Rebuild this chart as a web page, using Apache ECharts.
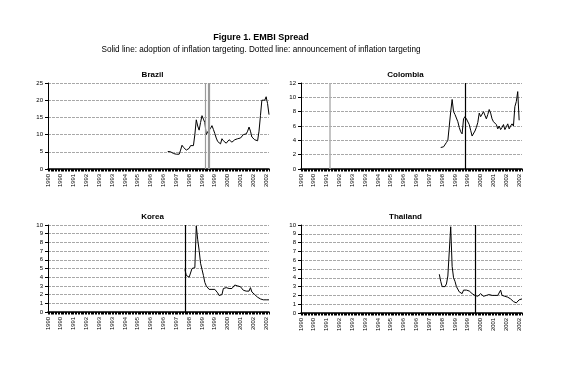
<!DOCTYPE html>
<html>
<head>
<meta charset="utf-8">
<script src="https://cdn.jsdelivr.net/npm/echarts@6/dist/echarts.min.js"></script>
<style>
html,body{margin:0;padding:0;background:#fff;}
#c{width:571px;height:385px;}
</style>
</head>
<body>
<div id="c"></div>
<script>
// Monthly categories Jan 1990 .. Dec 2002
var firstYear = 1990, lastYear = 2002;
var labelEvery = 9; // months between shown year labels

// EMBI spread (percentage points), each series starts at the given month index
var brazilStart = 84;
var brazilValues = [5.1,4.7,5.0,4.8,4.5,4.4,4.3,4.4,4.3,5.5,6.9,6.3,6.2,5.5,5.4,6.0,6.8,6.7,6.8,10.0,
  14.3,12.5,11.3,13.5,15.5,14.5,13.5,10.0,10.8,11.2,11.8,12.6,11.5,10.3,9.0,8.0,7.8,7.3,8.8,8.2,
  7.8,7.5,7.8,8.5,8.2,7.8,7.7,8.5,8.5,8.8,9.0,9.0,9.5,10.0,10.5,10.2,11.0,12.2,11.0,9.3,
  9.0,8.5,8.0,8.2,11.0,15.5,20.0,20.2,20.0,21.0,19.0,15.8];
var colombiaStart = 98;
var colombiaValues = [3.0,2.8,3.1,3.3,3.7,4.0,4.1,8.0,9.7,8.0,7.6,7.5,6.6,5.8,5.2,4.9,7.0,7.3,7.0,6.9,
  6.2,5.4,4.6,4.5,5.3,5.8,6.5,7.8,7.3,7.5,8.0,7.5,7.0,7.6,8.3,7.8,7.0,6.6,6.5,6.2,
  5.6,6.0,5.5,5.8,6.2,5.5,5.9,6.3,5.6,6.0,6.3,6.0,8.7,9.4,10.8,6.8];
var koreaStart = 96;
var koreaValues = [4.9,4.2,4.1,4.0,3.9,5.0,5.2,5.1,9.9,8.3,7.1,5.6,4.9,4.2,3.4,3.0,2.8,2.6,2.5,2.6,
  2.7,2.6,2.4,2.2,1.9,1.9,2.0,2.7,2.6,2.8,2.7,2.7,2.6,2.7,2.8,3.1,3.2,3.0,2.9,2.9,
  2.7,2.5,2.4,2.4,2.3,2.4,2.8,2.3,2.2,2.0,1.8,1.7,1.7,1.5,1.3,1.4,1.3,1.4,1.6,1.4];
var thailandStart = 97;
var thailandValues = [4.4,3.6,3.0,2.8,3.0,3.3,4.2,4.3,9.8,5.3,4.0,3.6,3.0,2.9,2.4,2.3,2.2,2.6,2.5,2.6,
  2.7,2.5,2.4,2.2,2.1,2.0,2.0,1.9,2.0,2.2,2.0,1.9,2.0,2.0,2.0,2.1,2.0,2.0,2.1,2.0,
  1.9,2.0,2.0,2.6,2.0,1.9,1.9,1.8,1.8,1.7,1.6,1.4,1.3,1.2,1.15,1.3,1.5,1.6,1.6];

// Inflation targeting events (month index); solid = adoption, dotted = announcement
var brazilEvents = [110, 113];
var colombiaEvents = [20, 115];
var koreaEvents = [96];
var thailandEvents = [122];

var yMax = [25, 12, 10, 10];
var yStep = [5, 2, 1, 1];
var titles = ['Brazil', 'Colombia', 'Korea', 'Thailand'];

var months = [];
for (var y = firstYear; y <= lastYear; y++) for (var m = 1; m <= 12; m++) months.push(y + '-' + (m < 10 ? '0' + m : m));

function pad(start, vals) {
  var out = [];
  for (var i = 0; i < months.length; i++) {
    var j = i - start;
    out.push(j >= 0 && j < vals.length ? vals[j] : null);
  }
  return out;
}
var seriesData = [pad(brazilStart, brazilValues), pad(colombiaStart, colombiaValues),
                  pad(koreaStart, koreaValues), pad(thailandStart, thailandValues)];
var events = [brazilEvents, colombiaEvents, koreaEvents, thailandEvents];
var eventColors = [['#9a9a9a', '#9a9a9a'], ['#b0b0b0', '#000'], ['#000'], ['#000']];
var eventWidths = [[1.2, 2.2], [1.5, 1.2], [1.2], [1.2]];

var grids = [
  {left: 48, top: 83, width: 221, height: 86},
  {left: 301, top: 83, width: 221, height: 86},
  {left: 48, top: 225, width: 221, height: 87},
  {left: 301, top: 225, width: 221, height: 88}
];
var font = 'Liberation Sans, Arial, sans-serif';

var option = {
  backgroundColor: '#fff',
  animation: false,
  title: [
    {text: 'Figure 1. EMBI Spread', left: 256, top: 28, textAlign: 'center',
     textStyle: {fontFamily: font, fontSize: 9, fontWeight: 'bold', color: '#000'}},
    {text: 'Solid line: adoption of inflation targeting. Dotted line: announcement of inflation targeting',
     left: 256, top: 41, textAlign: 'center',
     textStyle: {fontFamily: font, fontSize: 8.2, fontWeight: 'normal', color: '#000'}}
  ].concat(titles.map(function (t, i) {
    return {text: t, left: grids[i].left + grids[i].width / 2 - 11, top: grids[i].top - 17,
      textAlign: 'center',
      textStyle: {fontFamily: font, fontSize: 8, fontWeight: 'bold', color: '#000'}};
  })),
  grid: grids,
  xAxis: grids.map(function (g, i) {
    return {type: 'category', gridIndex: i, data: months, boundaryGap: false,
      axisLine: {lineStyle: {color: '#000', width: 1.5}},
      axisTick: {show: true, interval: 0, length: 2.5, lineStyle: {color: '#000', width: 1}},
      axisLabel: {interval: labelEvery - 1, rotate: 90, fontSize: 5.8, fontFamily: font, color: '#000', margin: 5,
        formatter: function (v) { return v.slice(0, 4); }},
      splitLine: {show: false}};
  }),
  yAxis: grids.map(function (g, i) {
    return {type: 'value', gridIndex: i, min: 0, max: yMax[i], interval: yStep[i],
      axisLine: {show: true, lineStyle: {color: '#000', width: 1}},
      axisTick: {show: true, length: 3, lineStyle: {color: '#000'}},
      axisLabel: {fontSize: 6, fontFamily: font, color: '#000', margin: 5},
      splitLine: {show: true, lineStyle: {color: '#a8a8a8', type: [3, 1], width: 1}}};
  }),
  series: seriesData.map(function (d, i) {
    return {type: 'line', xAxisIndex: i, yAxisIndex: i, data: d, showSymbol: false, symbol: 'none',
      connectNulls: false, lineStyle: {color: '#000', width: 1}, z: 3,
      markLine: {silent: true, symbol: 'none', label: {show: false}, animation: false,
        data: events[i].map(function (e, k) {
          return {xAxis: e, lineStyle: {color: eventColors[i][k], width: eventWidths[i][k], type: 'solid'}};
        })}};
  })
};
var chart = echarts.init(document.getElementById('c'), null, {renderer: 'canvas'});
chart.setOption(option);
</script>
</body>
</html>
